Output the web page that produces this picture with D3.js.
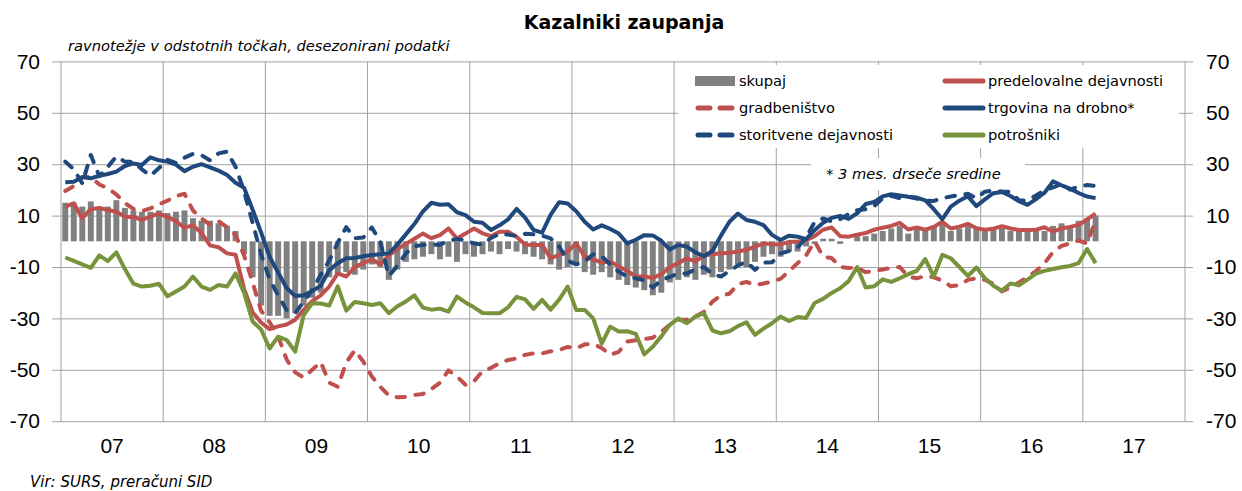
<!DOCTYPE html>
<html>
<head>
<meta charset="utf-8">
<script src="https://cdn.jsdelivr.net/npm/d3@7"></script>
<style>
	html, body { margin: 0; padding: 0; background: #fff; }
	svg text { font-family: "DejaVu Sans", sans-serif; fill: #000; }
</style>
</head>
<body>
<div id="chart"></div>
<script>
/* monthly data, Jan 2007 - Feb 2017 (balances in percentage points) */
const yearLabels = ["07", "08", "09", "10", "11", "12", "13", "14", "15", "16", "17"];
const yTicks = [70, 50, 30, 10, -10, -30, -50, -70];

const skupaj = [
	15, 15, 13.5, 15.5, 13.5, 13.5, 16, 13, 12, 11.5, 11.5, 12,
	11, 11.5, 12, 9, 8, 8, 7, 6, 4, -5, -14, -25,
	-29, -29, -30, -28, -25, -22, -20, -14, -13, -12, -13, -11,
	-9, -10, -15, -11, -8, -7, -6, -5, -7, -6, -8, -5,
	-6, -5, -4, -5, -3, -4, -5, -6, -7, -9, -11, -10,
	-9, -12, -13, -12, -14, -15, -17, -18, -19, -21, -20, -16,
	-15, -14, -15, -13, -14, -12, -11, -9, -10, -8, -6, -5,
	-6, -4, -4, -2, -1, 1, 1, -1, 0, 2, 2, 3,
	4, 5, 6, 3, 5, 4, 6, 7, 4, 5, 7, 5,
	4, 5, 6, 4, 5, 4, 5, 4, 6, 7, 6, 8,
	9, 10
];

const predelovalne = [
	13.5, 14.8, 9, 12.5, 13, 12.2, 11.5, 9.6, 9.5, 8.3, 9.7, 10.8,
	9.5, 7.8, 5.3, 6.2, 3.2, -1.6, -2.3, -4.7, -5.2, -18.5, -27.6, -31.6,
	-34.2, -33.1, -32.4, -30.5, -26.7, -23.3, -21, -17.6, -12.5, -13.7, -10, -8.5,
	-7, -9, -5.5, -3, -1, 1, 3, 1.2, 2.4, 5, 1.1, 3,
	5, 3.1, 2, 3.7, 3.7, 1.8, -1.3, -1.4, -1.4, -6.6, -5.3, -4,
	-0.8, -6, -7, -8.3, -7.9, -9.8, -11.5, -13.7, -13.7, -14.3, -12.8, -10,
	-8.5, -6.6, -7.8, -5.6, -4.9, -4.7, -4.5, -4, -3.3, -2.1, -0.9, -1.1,
	-1.2, -0.2, -0.2, 0.4, 2, 4.5, 5.4, 2, 1.8, 2.6, 3.2, 4.5,
	5.3, 6, 7.2, 4.6, 5.4, 4.5, 5.6, 7.6, 5, 5.7, 6.8, 5.1,
	4.5, 4.9, 5.9, 5, 4.4, 4.4, 4.5, 5.5, 3.8, 5, 5.6, 6.4,
	8.5, 10.8
];

const gradbenistvo = [
	19.6, 21.5, 24.8, 25.1, 22.1, 20.7, 18.2, 14.9, 12.6, 11.8, 12.8, 14.4,
	15.8, 17.6, 18.5, 12, 8.8, 6.5, 7.8, 5.5, 2.5, -5.5, -16, -27,
	-31.5, -37, -46, -51, -53, -50, -47, -55, -56.6, -47.2, -42.4, -46.8,
	-52.6, -56.6, -60, -60.7, -60.6, -59.8, -59.4, -57.5, -55, -50.2, -52.6, -55.8,
	-54.5, -50.5, -49.3, -47.4, -46.2, -45.6, -44.2, -43.6, -43.6, -42.8, -42.3, -41.1,
	-41.7, -40.1, -40, -41.5, -44.2, -43, -39, -38.5, -38, -37.5, -35.3, -32.5,
	-30.5, -30.5, -29.2, -27.5, -23.5, -21.1, -20.4, -16.7, -15.8, -17, -16.4, -15.7,
	-14.6, -11.7, -8.5, -5.5, 0, -6, -6.5, -10, -10.4, -10.2, -12, -11.5,
	-11, -10.3, -10, -13.7, -14.4, -13.5, -14, -15.3, -17.5, -17, -15, -14.4,
	-15, -16.5, -19.5, -18, -16, -14, -11.6, -8.5, -4.2, -1.8, -0.8, 0.3,
	-0.8, 8
];

const trgovina = [
	23, 23.2, 25, 24.5, 25.5, 26.2, 27.1, 29.3, 30.3, 29.7, 32.7, 31.5,
	31, 29.8, 27.3, 29, 30, 28.8, 27.5, 25.8, 22.8, 20.8, 12.4, 3.4,
	-6, -12.2, -18.2, -21.3, -21, -19.4, -17.3, -11.3, -8.5, -6.6, -6.5, -5.8,
	-5.3, -5, -4.7, -1.3, 2.7, 6.7, 11.6, 15, 14.2, 14.4, 11.3, 10.2,
	7.6, 7.2, 4.4, 6.2, 8.5, 12.6, 9.2, 4.4, 3.4, 10.3, 15.2, 14.7,
	11.7, 7.6, 4.6, 6.2, 4.8, 3, -0.8, 0.6, 2.4, 2.3, 0.2, -3.2,
	-1.4, -2.1, -4.3, -5.8, -3.8, 2.2, 7.6, 10.8, 8.3, 7.6, 6.3, 2.5,
	0.5, 2.2, 1.8, 0.8, 4.3, 7.2, 9.1, 9.9, 8.7, 10.9, 14.5, 15.3,
	17.5, 18.3, 17.8, 17.3, 17, 15.9, 12.5, 8.6, 13.5, 15.8, 17.5, 13.7,
	16.3, 18.7, 19.2, 17.6, 15.6, 14.2, 16.4, 18.9, 23.3, 21.8, 20.5, 18.8,
	17.4, 16.8
];

const storitvene = [
	31, 28, 22.5, 33.6, 25.3, 29, 33, 31, 31, 28, 25.5, 28.5,
	31.7, 30.5, 32.5, 34, 33.5, 31.5, 34.2, 34.9, 29, 19.5, 7.2, -5,
	-14.8, -21, -26.8, -28, -23.5, -19, -13, -7.5, -0.5, 5.5, 1.2, 1.5,
	5.4, -0.2, -13.5, -9.5, -4.7, -2, -1.4, -1.4, -1.3, 0.2, 0.9, 0.4,
	-0.8, -1.3, 1.3, 2.9, 2.6, 2.1, 2.9, 2.7, 2.2, 1.1, -2, -7.5,
	-9, -7.9, -5, -5.8, -9, -11.8, -13.7, -14.4, -15.2, -18, -15.1, -13.8,
	-12.5, -12.5, -11, -10, -12.8, -13.7, -11.6, -9.4, -8, -11.1, -8.3, -8.2,
	-4.7, -3.8, -2.4, 1.5, 7.5, 8.9, 7.7, 8.6, 10.6, 12.1, 12.5, 13.7,
	16.8, 17.7, 16.8, 17.3, 16.6, 15.8, 15.7, 16.8, 17.4, 18, 18.5, 16.8,
	19.3, 19.8, 19.4, 19.3, 15.9, 15.9, 17.8, 19.8, 21, 22.2, 20.1, 21.3,
	21.9, 21.5
];

const potrosniki = [
	-6.3, -7.6, -9, -10.3, -5.5, -7.7, -4.3, -10.8, -16.5, -17.6, -17.3, -16.5,
	-21.4, -19.5, -17.6, -13.7, -17.6, -18.9, -17, -17.6, -12.5, -20, -31.2, -34.3,
	-41.7, -37.1, -38.4, -42.9, -28.7, -24.1, -24.2, -25, -17.5, -27, -23.6, -24.1,
	-24.8, -24.1, -28, -25.3, -23.4, -21, -25.8, -26.6, -26.2, -27.4, -21.5, -23.8,
	-25.7, -27.9, -28, -28, -25.7, -21.6, -22.6, -26.3, -22.8, -26.6, -22.7, -17.6,
	-26.7, -26.7, -30, -39.8, -33.2, -35.1, -35, -36, -44, -41, -37, -32.5,
	-30, -31.9, -29.3, -28, -34.7, -35.8, -35, -33, -31.5, -36.4, -34, -31.9,
	-29.3, -31, -29.5, -29.8, -24, -22.4, -20.1, -18.3, -15.5, -10, -18, -17.5,
	-14.8, -15.8, -14.4, -12.8, -11.5, -6.9, -13.7, -5.3, -6.6, -10, -13.5, -10.2,
	-14.4, -17.3, -19.2, -16.4, -17.1, -14.9, -12.6, -11.5, -10.8, -10.1, -9.6, -8.5,
	-3, -8.5
];

const seriesNames = ["skupaj", "predelovalne dejavnosti", "gradbeništvo",
	"trgovina na drobno*", "storitvene dejavnosti", "potrošniki"];

class ConfidenceChart {

	constructor(options) {
		/* defaults, overridden by whatever the caller passes */
		this.opt = Object.assign({
			parent: "#chart",
			width: 1242,
			height: 491,
			plot: { left: 61, right: 1185 },
			gridColor: "#a3a3a3",
			barColor: "#808080",
			lineWidth: 4,
			dash: "8.5,10.5"
		}, options);

		const red = "#c0504d", blue = "#1f497d", green = "#77933c";
		this.lines = [
			{ name: seriesNames[1], values: predelovalne, color: red, dashed: false },
			{ name: seriesNames[2], values: gradbenistvo, color: red, dashed: true },
			{ name: seriesNames[3], values: trgovina, color: blue, dashed: false },
			{ name: seriesNames[4], values: storitvene, color: blue, dashed: true },
			{ name: seriesNames[5], values: potrosniki, color: green, dashed: false }
		];
	}

	createSVG() {
		this._svg = d3.select(this.opt.parent).append("svg")
			.attr("width", this.opt.width)
			.attr("height", this.opt.height);

		const p = this.opt.plot;
		this.x = d3.scaleBand()
			.domain(d3.range(yearLabels.length * 12))
			.range([p.left, p.right])
			.paddingInner(0.3)
			.paddingOuter(0.15);
		this.xYear = d3.scaleBand()
			.domain(yearLabels)
			.range([p.left, p.right]);
		this.y = d3.scaleLinear()
			.domain([-70, 70])
			.range([421.2, 61.4]);
		return this._svg;
	}

	drawGrid() {
		const svg = this._svg, p = this.opt.plot, y = this.y;

		/* horizontal grid */
		svg.append("g")
			.attr("transform", `translate(${p.left},0)`)
			.call(d3.axisLeft(y).tickValues(yTicks).tickSize(-(p.right - p.left)).tickFormat(""))
			.call(g => g.select(".domain").remove())
			.call(g => g.selectAll("line").attr("stroke", this.opt.gridColor));

		/* vertical grid on year boundaries */
		const bounds = yearLabels.map(d => this.xYear(d)).concat([p.right]);
		svg.append("g")
			.selectAll("line")
			.data(bounds)
			.join("line")
				.attr("x1", d => d).attr("x2", d => d)
				.attr("y1", y(70)).attr("y2", y(-70))
				.attr("stroke", this.opt.gridColor);

		/* left and right value axes, plain hyphen for negatives */
		const fmt = d => String(d);
		const styleAxis = g => {
			g.select(".domain").remove();
			g.selectAll("line").attr("stroke", this.opt.gridColor);
			g.selectAll("text").style("font-family", "'Liberation Sans', sans-serif").style("font-size", "21px").attr("fill", "#111");
		};
		svg.append("g")
			.attr("transform", `translate(${p.left},0)`)
			.call(d3.axisLeft(y).tickValues(yTicks).tickFormat(fmt).tickSize(9).tickPadding(12))
			.call(styleAxis);
		svg.append("g")
			.attr("transform", `translate(${p.right},0)`)
			.call(d3.axisRight(y).tickValues(yTicks).tickFormat(fmt).tickSize(8).tickPadding(13))
			.call(styleAxis);

		/* year labels */
		svg.append("g")
			.attr("transform", `translate(0,${y(-70)})`)
			.call(d3.axisBottom(this.xYear).tickSize(0).tickPadding(17))
			.call(styleAxis);
	}

	drawBoxes() {
		/* white panels of the legend and of the footnote cover the grid */
		this._svg.append("rect")
			.attr("x", 678).attr("y", 65).attr("width", 501).attr("height", 83)
			.attr("fill", "#fff");
		this._svg.append("rect")
			.attr("x", 811).attr("y", 158).attr("width", 214).attr("height", 32)
			.attr("fill", "#fff");
	}

	drawBars() {
		const x = this.x, y = this.y;
		this._svg.append("g")
			.selectAll("rect")
			.data(skupaj)
			.join("rect")
				.attr("x", (d, i) => x(i))
				.attr("width", x.bandwidth())
				.attr("y", d => y(Math.max(0, d)))
				.attr("height", d => Math.abs(y(d) - y(0)))
				.attr("fill", this.opt.barColor);
	}

	drawLines() {
		const x = this.x, y = this.y, half = x.bandwidth() / 2;
		const line = d3.line()
			.x((d, i) => x(i) + half)
			.y(d => y(d));

		this._svg.append("g")
			.selectAll("path")
			.data(this.lines)
			.join("path")
				.attr("d", s => line(s.values))
				.attr("fill", "none")
				.attr("stroke", s => s.color)
				.attr("stroke-width", this.opt.lineWidth)
				.attr("stroke-linejoin", "round")
				.attr("stroke-linecap", s => s.dashed ? "round" : "butt")
				.attr("stroke-dasharray", s => s.dashed ? this.opt.dash : null);
	}

	drawLegend() {
		const items = [{ name: seriesNames[0], bar: true }].concat(this.lines);
		const g = this._svg.append("g")
			.selectAll("g")
			.data(items)
			.join("g")
				.attr("transform", (d, i) => `translate(${i % 2 ? 943 : 695},${81 + Math.floor(i / 2) * 27})`);

		g.filter(d => d.bar).append("rect")
			.attr("x", 0).attr("y", -5).attr("width", 40).attr("height", 10)
			.attr("fill", this.opt.barColor);
		g.filter(d => !d.bar).append("line")
			.attr("x1", d => d.dashed ? 3 : 2).attr("x2", d => d.dashed ? 38 : 40)
			.attr("stroke", d => d.color)
			.attr("stroke-width", 5)
			.attr("stroke-linecap", "round")
			.attr("stroke-dasharray", d => d.dashed ? "12,10" : null);
		g.append("text")
			.attr("x", (d, i) => i % 2 ? 45 : 44)
			.attr("dy", "0.35em")
			.style("font-size", "14.6px")
			.text(d => d.name);
	}

	drawTexts() {
		const svg = this._svg;
		svg.append("text")
			.attr("x", 624).attr("y", 22).attr("dy", "0.35em")
			.attr("text-anchor", "middle")
			.style("font-size", "19px").style("font-weight", "bold")
			.text("Kazalniki zaupanja");
		svg.append("text")
			.attr("x", 68).attr("y", 46).attr("dy", "0.35em")
			.style("font-size", "14.7px").style("font-style", "italic")
			.text("ravnotežje v odstotnih točkah, desezonirani podatki");
		svg.append("text")
			.attr("x", 826).attr("y", 174).attr("dy", "0.35em")
			.style("font-size", "14.7px").style("font-style", "italic")
			.text("* 3 mes. drseče sredine");
		svg.append("text")
			.attr("x", 30).attr("y", 482).attr("dy", "0.35em")
			.style("font-size", "15px").style("font-style", "italic")
			.text("Vir: SURS, preračuni SID");
	}
}

const chart = new ConfidenceChart();
chart.createSVG();
chart.drawGrid();
chart.drawBoxes();
chart.drawBars();
chart.drawLines();
chart.drawLegend();
chart.drawTexts();
</script>
</body>
</html>
